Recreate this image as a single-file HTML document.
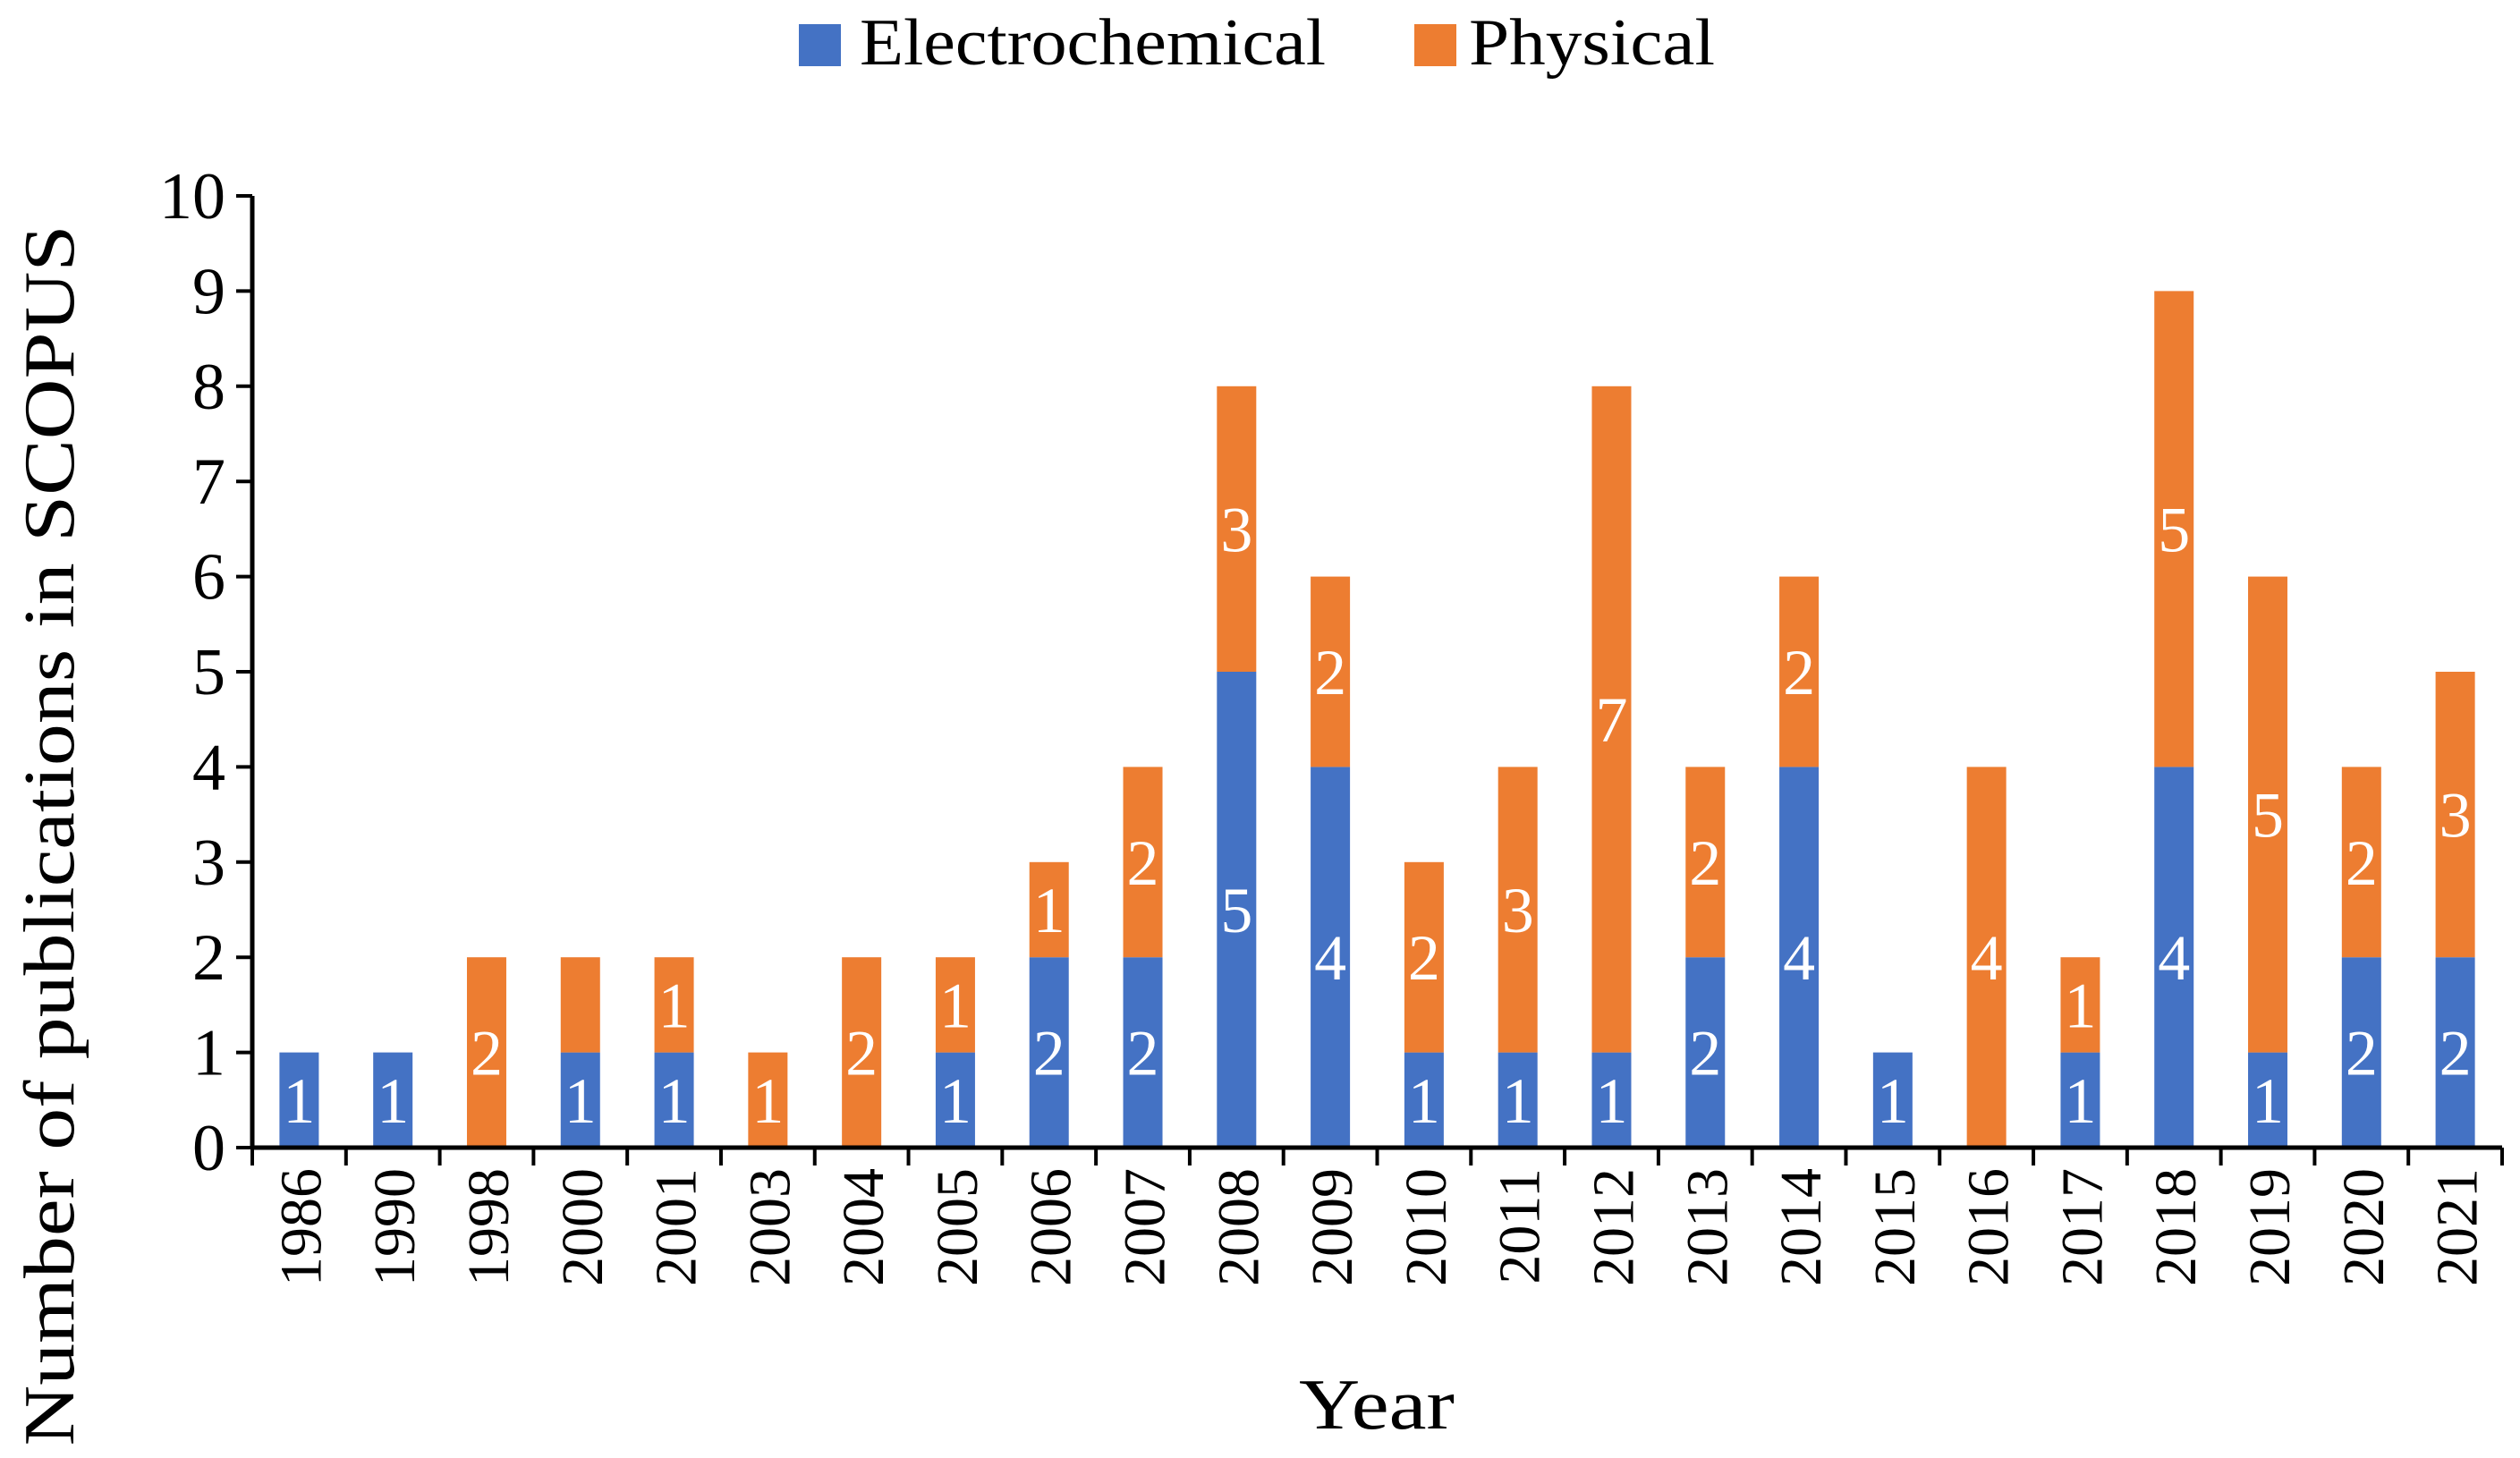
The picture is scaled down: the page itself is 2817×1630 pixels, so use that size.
<!DOCTYPE html>
<html><head><meta charset="utf-8"><style>
html,body{margin:0;padding:0;background:#fff}
svg text{font-family:"Liberation Serif",serif}
</style></head><body>
<svg id="chart" width="2817" height="1625" viewBox="0 0 2817 1625" xmlns="http://www.w3.org/2000/svg">
<g>
<rect x="893" y="27" width="47" height="47" fill="#4472C4"/>
<text x="961" y="72" font-size="74" textLength="521" lengthAdjust="spacingAndGlyphs" fill="#000">Electrochemical</text>
<rect x="1581" y="27" width="47" height="47" fill="#ED7D31"/>
<text x="1642" y="72" font-size="74" textLength="275" lengthAdjust="spacingAndGlyphs" fill="#000">Physical</text>
</g>
<g id="bars"></g>
<g id="axes"></g>
<text transform="translate(82,934) rotate(-90)" text-anchor="middle" font-size="80" textLength="1365" lengthAdjust="spacingAndGlyphs">Number of publications in SCOPUS</text>
<text x="1539" y="1597" text-anchor="middle" font-size="80" textLength="174" lengthAdjust="spacingAndGlyphs">Year</text>
</svg>
<script>
const years=["1986","1990","1998","2000","2001","2003","2004","2005","2006","2007","2008","2009","2010","2011","2012","2013","2014","2015","2016","2017","2018","2019","2020","2021"];
const electrochemical=[1,1,0,1,1,0,0,1,2,2,5,4,1,1,1,2,4,1,0,1,4,1,2,2];
const physical=[0,0,2,1,1,1,2,1,1,2,3,2,2,3,7,2,2,0,4,1,5,5,2,3];
const physicalLabelShown=[1,1,1,0,1,1,1,1,1,1,1,1,1,1,1,1,1,1,1,1,1,1,1,1];
const yTicks=[0,1,2,3,4,5,6,7,8,9,10];
const NS="http://www.w3.org/2000/svg";
const X0=282,X1=2797,Y0=1283,Y10=219;
const band=(X1-X0)/years.length, barW=44;
const y=v=>Y0-(Y0-Y10)*v/10;
const xc=i=>X0+band*(i+0.5);
const bars=document.getElementById('bars'),axes=document.getElementById('axes');
function mk(tag,attrs,parent){const e=document.createElementNS(NS,tag);for(const k in attrs)e.setAttribute(k,attrs[k]);parent.appendChild(e);return e;}
years.forEach((yr,i)=>{
  const e=electrochemical[i],p=physical[i];
  if(e>0){
    const r=mk('rect',{x:xc(i)-barW/2,y:y(e),width:barW,height:y(0)-y(e),fill:'#4472C4'},bars);
    
    
    const t=mk('text',{x:xc(i),y:(y(0)+y(e))/2+25,'text-anchor':'middle','font-size':72,fill:'#fff'},bars);
    t.textContent=e;
    
    
  }
  if(p>0){
    const r=mk('rect',{x:xc(i)-barW/2,y:y(e+p),width:barW,height:y(e)-y(e+p),fill:'#ED7D31'},bars);
    
    
    if(physicalLabelShown[i]){
      const t=mk('text',{x:xc(i),y:(y(e)+y(e+p))/2+25,'text-anchor':'middle','font-size':72,fill:'#fff'},bars);
      t.textContent=p;
      
      
    }
  }
  const yl=mk('text',{transform:`translate(${xc(i)+24},1306) rotate(-90)`,'text-anchor':'end','font-size':66,fill:'#000'},axes);
  yl.textContent=yr;
  
  
});
for(let i=0;i<=years.length;i++){
  const t=mk('line',{x1:X0+band*i,x2:X0+band*i,y1:Y0,y2:Y0+20,stroke:'#000','stroke-width':4},axes);
  
  
}
yTicks.forEach(v=>{
  const t=mk('line',{x1:X0-18,x2:X0,y1:y(v),y2:y(v),stroke:'#000','stroke-width':4},axes);
  
  
  const l=mk('text',{x:X0-30,y:y(v)+25,'text-anchor':'end','font-size':74,fill:'#000'},axes);
  l.textContent=v;
  
  
});
const xa=mk('line',{x1:X0,x2:X1,y1:Y0,y2:Y0,stroke:'#000','stroke-width':5},axes);


const ya=mk('line',{x1:X0,x2:X0,y1:Y10,y2:Y0+2,stroke:'#000','stroke-width':5},axes);


</script>
</body></html>
